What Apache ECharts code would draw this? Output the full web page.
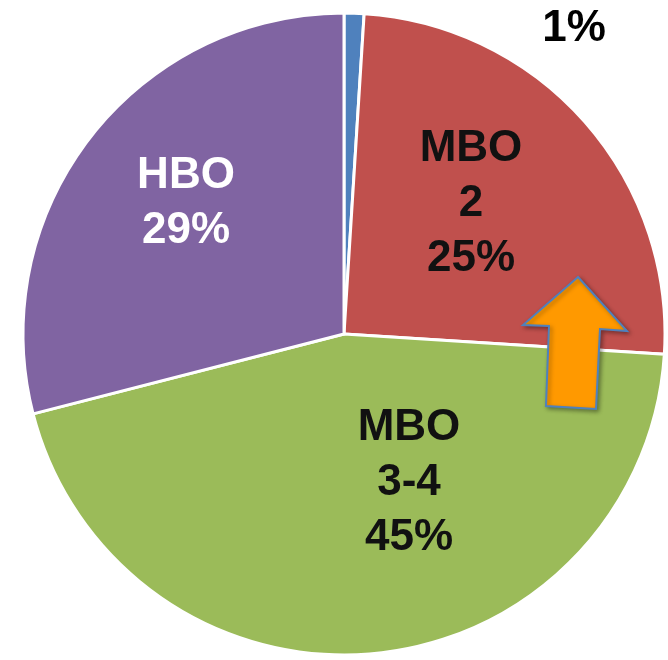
<!DOCTYPE html>
<html>
<head>
<meta charset="utf-8">
<script src="https://cdn.jsdelivr.net/npm/echarts@6/dist/echarts.min.js"></script>
<style>
  html, body { margin: 0; padding: 0; background: #fff; }
  #chart { width: 668px; height: 660px; }
</style>
</head>
<body>
<div id="chart"></div>
<script>
// slices, clockwise from 12 o'clock
const names = ['MBO 1', 'MBO 2', 'MBO 3-4', 'HBO'];
const values = [1, 25, 45, 29];
const labelTexts = ['1%', 'MBO\n2\n25%', 'MBO\n3-4\n45%', 'HBO\n29%'];

const colors = ['#4f81bd', '#c0504d', '#9bbb59', '#8064a2'];
const labelColors = ['#000', '#111', '#111', '#fff'];
// label centres in pixels
const labelPos = [[574, 29], [471, 204], [409, 483], [186, 203]];

const chart = echarts.init(document.getElementById('chart'));

const option = {
  animation: false,
  series: [{
    type: 'pie',
    center: [344, 334],
    radius: 321,
    startAngle: 90,
    clockwise: true,
    color: colors,
    itemStyle: {
      borderColor: '#fff',
      borderWidth: 3
    },
    label: {
      show: true,
      position: 'inside',
      fontFamily: 'Liberation Sans, Arial, sans-serif',
      fontWeight: 'bold',
      fontSize: 44,
      lineHeight: 55,
      align: 'center',
      formatter: p => labelTexts[p.dataIndex]
    },
    labelLine: { show: false },
    labelLayout: p => ({
      x: labelPos[p.dataIndex][0],
      y: labelPos[p.dataIndex][1],
      align: 'center',
      verticalAlign: 'middle'
    }),
    data: names.map((n, i) => ({
      name: n,
      value: values[i],
      label: { color: labelColors[i] }
    }))
  }],
  graphic: [{
    type: 'polygon',
    shape: {
      points: [[578, 277], [523, 325], [549, 326], [546, 406],
               [596, 409], [600, 329], [627, 331]]
    },
    style: {
      fill: '#ff9900',
      stroke: '#4f81bd',
      lineWidth: 2,
      shadowBlur: 4,
      shadowOffsetX: 2,
      shadowOffsetY: 2,
      shadowColor: 'rgba(0,0,0,0.35)'
    },
    z: 100
  }]
};

chart.setOption(option);
</script>
</body>
</html>
